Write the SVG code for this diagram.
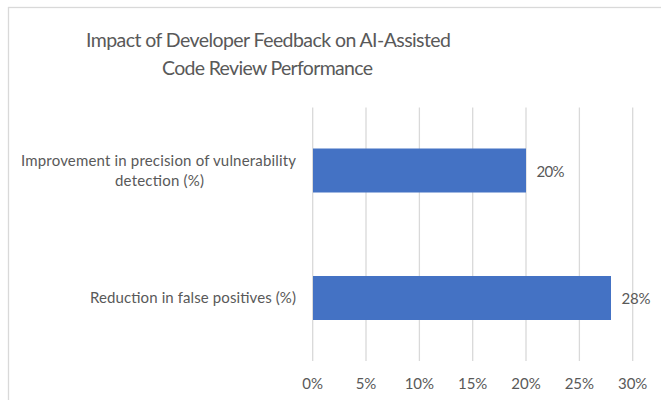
<svg xmlns="http://www.w3.org/2000/svg" width="661" height="400" viewBox="0 0 661 400">
<style>
text{font-family:Lato,"Liberation Sans",sans-serif;fill:#595959}
.t{font-size:19.5px}
.l{font-size:15px}
.g{stroke:#d9d9d9;stroke-width:1.3}
.bar{fill:#4472c4}
</style>
<rect x="0" y="0" width="661" height="400" fill="#ffffff"/>
<rect x="8.5" y="7.5" width="720" height="430" fill="#ffffff" stroke="#d9d9d9" stroke-width="1.3"/>
<g id="title" text-anchor="middle">
<text class="t" x="268.5" y="47" textLength="365">Impact of Developer Feedback on AI-Assisted</text>
<text class="t" x="267.5" y="75" textLength="211">Code Review Performance</text>
</g>
<g id="gridlines">
<line class="g" x1="312.7" y1="107.5" x2="312.7" y2="361"/>
<line class="g" x1="366" y1="107.5" x2="366" y2="361"/>
<line class="g" x1="419.4" y1="107.5" x2="419.4" y2="361"/>
<line class="g" x1="472.7" y1="107.5" x2="472.7" y2="361"/>
<line class="g" x1="526" y1="107.5" x2="526" y2="361"/>
<line class="g" x1="579.4" y1="107.5" x2="579.4" y2="361"/>
<line class="g" x1="632.7" y1="107.5" x2="632.7" y2="361"/>
</g>
<g id="bar-precision">
<rect class="bar" x="313" y="148.5" width="213" height="44"/>
<text class="l" x="536.5" y="177" textLength="28">20%</text>
</g>
<g id="bar-false-positives">
<rect class="bar" x="313" y="276" width="298" height="44"/>
<text class="l" x="621.5" y="304" textLength="29">28%</text>
</g>
<g id="categories">
<text class="l" x="158.5" y="166" text-anchor="middle" textLength="275">Improvement in precision of vulnerability</text>
<text class="l" x="159.5" y="186" text-anchor="middle" textLength="89">detection (%)</text>
<text class="l" x="296" y="303" text-anchor="end" textLength="206">Reduction in false positives (%)</text>
</g>
<g id="axis" text-anchor="middle">
<text class="l" x="312.7" y="389">0%</text>
<text class="l" x="366" y="389">5%</text>
<text class="l" x="419.4" y="389">10%</text>
<text class="l" x="472.7" y="389">15%</text>
<text class="l" x="526" y="389">20%</text>
<text class="l" x="579.4" y="389">25%</text>
<text class="l" x="632.7" y="389">30%</text>
</g>
</svg>
